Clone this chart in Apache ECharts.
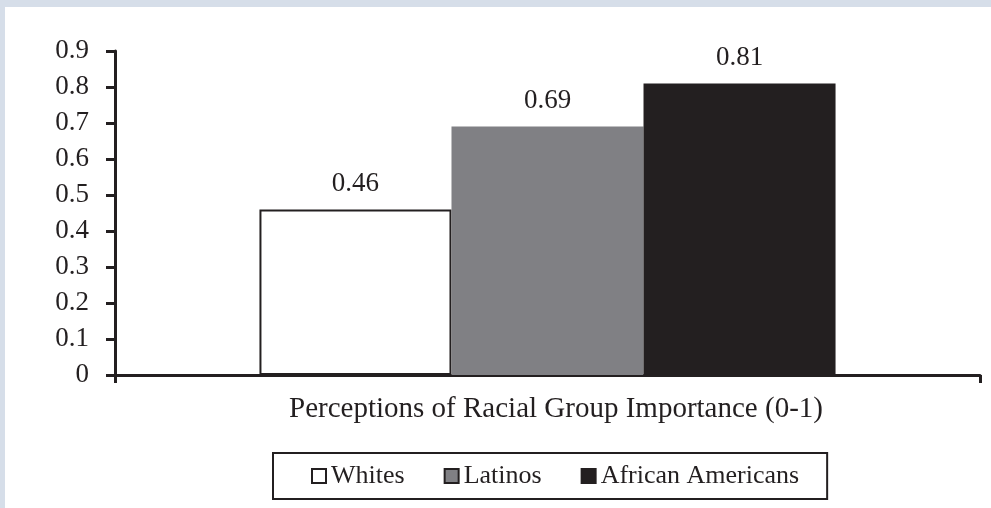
<!DOCTYPE html>
<html>
<head>
<meta charset="utf-8">
<script src="https://cdn.jsdelivr.net/npm/echarts@6/dist/echarts.min.js"></script>
<style>
  html, body { margin: 0; padding: 0; background: #fff; }
  #chart { width: 991px; height: 508px; }
</style>
</head>
<body>
<div id="chart"></div>
<script>
// Chart data
const categories = ['Perceptions of Racial Group Importance (0-1)'];
const groupNames = ['Whites', 'Latinos', 'African Americans'];
const whitesValues = [0.46];
const latinosValues = [0.69];
const africanAmericanValues = [0.81];
const yTicks = [0, 0.1, 0.2, 0.3, 0.4, 0.5, 0.6, 0.7, 0.8, 0.9];

const INK = '#231f20';
const FONT = '"Liberation Serif", "Times New Roman", serif';

const seriesStyles = [
  { color: '#ffffff', borderColor: INK, borderWidth: 2 },
  { color: '#808084', borderColor: '#808084', borderWidth: 0 },
  { color: INK, borderColor: INK, borderWidth: 0 }
];
const seriesValues = [whitesValues, latinosValues, africanAmericanValues];

const chart = echarts.init(document.getElementById('chart'), null, { renderer: 'canvas' });

chart.setOption({
  animation: false,
  backgroundColor: '#ffffff',
  graphic: [
    { type: 'rect', z: -10, shape: { x: 0, y: 0, width: 991, height: 7 }, style: { fill: '#d6dee9' } },
    { type: 'rect', z: -10, shape: { x: 0, y: 0, width: 5, height: 508 }, style: { fill: '#d6dee9' } }
  ],
  grid: { left: 115, right: 11, top: 51, bottom: 133, containLabel: false },
  legend: {
    data: groupNames.map((n, i) => ({
      name: n,
      icon: 'rect',
      itemStyle: { color: seriesStyles[i].color, borderColor: INK, borderWidth: 2 }
    })),
    left: 273,
    top: 453,
    padding: [10, 28, 10, 38],
    itemWidth: 14,
    itemHeight: 14,
    itemGap: 39,
    borderColor: INK,
    borderWidth: 2,
    backgroundColor: '#ffffff',
    selectedMode: false,
    textStyle: { fontFamily: FONT, fontSize: 26, color: INK }
  },
  xAxis: {
    type: 'category',
    data: categories,
    name: categories[0],
    nameLocation: 'middle',
    nameGap: 20,
    nameTextStyle: {
      fontFamily: FONT, fontSize: 29, color: INK, verticalAlign: 'top',
      padding: [0, 0, 0, 17]
    },
    axisLine: { lineStyle: { color: INK, width: 3 } },
    axisTick: { show: true, length: 8, lineStyle: { color: INK, width: 3 } },
    axisLabel: { show: false },
    splitLine: { show: false }
  },
  yAxis: {
    type: 'value',
    min: yTicks[0],
    max: yTicks[yTicks.length - 1],
    interval: 0.1,
    axisLine: { show: true, lineStyle: { color: INK, width: 3 } },
    axisTick: { show: true, length: 9, lineStyle: { color: INK, width: 3 } },
    axisLabel: {
      fontFamily: FONT, fontSize: 27, color: INK, margin: 26,
      formatter: v => String(Math.round(v * 10) / 10)
    },
    splitLine: { show: false }
  },
  series: groupNames.map((n, i) => ({
    name: n,
    type: 'bar',
    data: seriesValues[i],
    barGap: '0%',
    barCategoryGap: '33.4%',
    itemStyle: seriesStyles[i],
    label: {
      show: true,
      position: 'top',
      distance: 12,
      fontFamily: FONT,
      fontSize: 27,
      color: INK,
      formatter: p => p.value.toFixed(2)
    }
  }))
});
</script>
</body>
</html>
